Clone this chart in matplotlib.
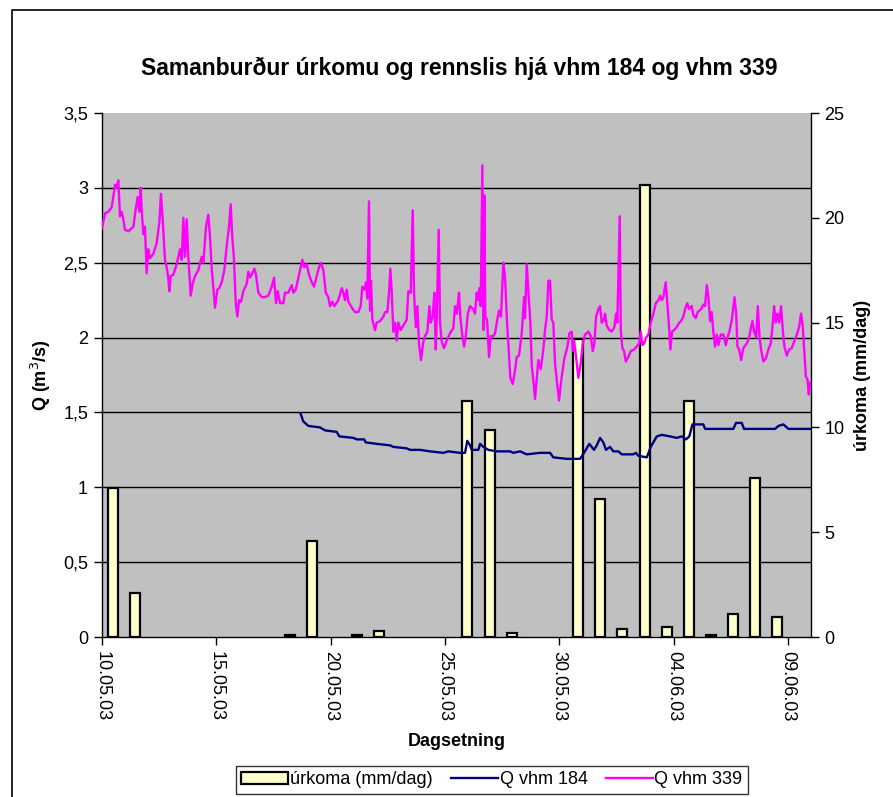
import numpy as np
import pandas as pd
import matplotlib
matplotlib.use("Agg")
import matplotlib.pyplot as plt
import matplotlib.dates as mdates
from matplotlib.patches import Rectangle, Patch
from matplotlib.lines import Line2D

plt.rcParams['font.family'] = ['Liberation Sans', 'DejaVu Sans']

# ---------------- data ----------------
title = "Samanburður úrkomu og rennslis hjá vhm 184 og vhm 339"
start = "2003-05-10"

# daily precipitation (mm/dag), one value per day from 10.05.03 to 10.06.03
rain = [7.1, 2.08, 0, 0, 0, 0, 0, 0, 0.1, 4.58, 0, 0.1, 0.29, 0, 0, 0,
        11.27, 9.87, 0.18, 0, 0, 14.2, 6.58, 0.38, 21.56, 0.49, 11.27, 0.1,
        1.08, 7.57, 0.97, 0]

# Q vhm 339 : hours after 10.05.03 00:00, discharge m3/s
q339_h = [0, 3.2, 6.6, 10.2, 13.7, 15.4, 17.1, 18.9, 20.7, 22.4, 24.1, 27.6, 32.9, 35.7, 37.5,
          39.2, 40.6, 41.7, 43.4, 45.1, 46.9, 48.6, 50.4, 53.9, 57.4, 60.2, 61.9, 63.7, 66.1,
          67.9, 69.6, 70.7, 72.1, 74.9, 78.4, 81.9, 83.7, 85.4, 87.1, 88.9, 90.6, 93.1, 95.2,
          97.6, 101.1, 104.7, 106.4, 109.2, 111.6, 113.4, 115.2, 118.6, 121.1, 123.2, 125.7,
          128.4, 130.9, 133.3, 135.1, 136.8, 138.6, 140.4, 142.1, 143.8, 145.9, 148.4, 151.9,
          153.6, 155.4, 157.8, 159.9, 161.7, 164.1, 167.7, 171.1, 174.6, 178.2, 180.6, 182.7,
          184.5, 186.9, 190.4, 192.2, 195.6, 199.2, 200.9, 203.4, 206.1, 207.9, 210.3, 212.4,
          214.9, 217.3, 220.2, 222.6, 225.4, 227.8, 229.9, 232.4, 234.9, 237.6, 239.4, 241.8,
          243.9, 248.1, 251.7, 253.4, 255.1, 256.9, 258.6, 262.2, 265.6, 269.1, 271.6, 273.3,
          275.4, 277.2, 278.5, 280.3, 281.4, 282.4, 283.8, 286.6, 288.4, 291.9, 295.4, 297.1,
          299.6, 301.3, 302.7, 304.2, 305.8, 307.6, 309.4, 311.1, 313.6, 316.3, 319.9, 321.6,
          324.1, 326.2, 327.6, 329.4, 331.1, 332.8, 334.9, 337.3, 339.1, 341.6, 343.7, 345.1,
          347.2, 348.9, 350.4, 351.7, 353.5, 354.9, 356.7, 359.1, 361.9, 364.7, 366.4, 368.8,
          370.6, 372.4, 373.5, 374.8, 376.2, 378.3, 380.1, 381.9, 384.0, 386.4, 389.8, 391.6,
          393.4, 394.5, 396.1, 397.6, 399.3, 400.3, 401.4, 402.4, 404.2, 406.3, 408.1, 410.8,
          412.6, 415.0, 416.8, 418.9, 421.3, 423.1, 424.9, 426.6, 428.7, 431.2, 433.6, 435.4,
          437.8, 440.7, 443.1, 444.1, 445.9, 447.6, 449.7, 451.2, 452.8, 454.6, 456.4, 458.1,
          460.6, 463.3, 465.1, 466.9, 468.6, 470.4, 472.1, 473.8, 475.6, 478.0, 479.8, 482.6,
          485.4, 488.6, 490.7, 493.2, 494.3, 495.6, 498.4, 500.1, 502.6, 504.7, 507.1, 510.6,
          513.1, 515.2, 516.9, 518.7, 521.1, 522.9, 524.6, 526.3, 528.1, 529.9, 532.6, 535.1,
          537.9, 539.7, 541.0, 542.5, 543.5, 544.6, 546.3, 548.1, 549.9, 552.6, 555.1, 558.6,
          561.4, 563.8, 565.6, 567.3, 569.1, 571.2, 573.6, 576.1, 578.9, 581.4, 584.1, 585.9,
          587.7, 589.3, 591.8, 593.5, 595.3, 596.7, 598.4, 600.6, 603.4, 606.1, 607.9, 610.3,
          612.1, 614.5, 616.3, 619.1, 620.8, 623.3, 625.4, 628.9, 631.3, 633.1, 634.9, 636.6,
          638.4, 640.1, 641.8, 643.6, 645.4, 647.1, 649.6, 652.4, 654.9, 657.0, 658.7, 661.2,
          664.0, 665.8, 667.1, 668.9, 671.0, 673.3, 676.9, 679.3, 681.1, 682.8, 684.6, 686.7,
          688.5, 690.2, 691.9, 694.3, 696.9, 699.6, 702.1, 703.8, 705.6, 707.3, 709.0, 710.8,
          712.9, 714.7, 716.4, 718.9, 721.3, 724.1, 726.5, 729.4, 731.8, 733.9, 735.7, 737.4,
          738.9, 740.6, 742.0, 743.3]
q339_v = [2.73, 2.83, 2.84, 2.87, 3.02, 3.00, 3.05, 2.81, 2.84, 2.79, 2.72, 2.71, 2.74, 2.87, 2.94,
          2.84, 3.00, 2.85, 2.69, 2.74, 2.43, 2.59, 2.53, 2.56, 2.63, 2.77, 2.96, 2.79, 2.52,
          2.47, 2.40, 2.31, 2.41, 2.42, 2.49, 2.59, 2.52, 2.80, 2.54, 2.79, 2.54, 2.28, 2.36,
          2.41, 2.45, 2.54, 2.50, 2.74, 2.82, 2.67, 2.46, 2.20, 2.32, 2.33, 2.37,
          2.45, 2.61, 2.74, 2.89, 2.67, 2.52, 2.23, 2.14, 2.25, 2.24, 2.31, 2.36,
          2.44, 2.40, 2.43, 2.46, 2.42, 2.30, 2.27, 2.27, 2.28, 2.34, 2.40, 2.23,
          2.31, 2.23, 2.23, 2.30, 2.30, 2.35, 2.30, 2.32, 2.40, 2.45, 2.52, 2.47,
          2.49, 2.42, 2.37, 2.34, 2.41, 2.47, 2.50, 2.45, 2.30, 2.27, 2.21, 2.24,
          2.21, 2.25, 2.33, 2.30, 2.25, 2.32, 2.24, 2.20, 2.17, 2.17, 2.21, 2.34,
          2.32, 2.37, 2.26, 2.91, 2.18, 2.38, 2.12, 2.05, 2.10, 2.11, 2.14, 2.17,
          2.17, 2.30, 2.46, 2.30, 2.04, 2.10, 1.98, 2.10, 2.05, 2.08, 2.12, 2.31,
          2.30, 2.85, 2.30, 2.07, 2.21, 1.96, 1.85, 1.97, 2.01, 2.04, 2.21, 2.10,
          2.14, 2.30, 1.92, 2.21, 2.72, 2.10, 1.97, 1.93, 1.98, 2.02, 2.04, 2.06,
          2.21, 2.16, 2.22, 2.30, 2.14, 2.01, 1.94, 2.01, 2.16, 2.21, 2.19, 2.16,
          2.30, 2.25, 2.33, 2.21, 3.15, 2.05, 2.95, 2.14, 2.12, 1.87, 2.01, 2.01,
          2.03, 2.12, 2.18, 2.14, 2.50, 2.41, 2.14, 1.96, 1.73, 1.69, 1.78, 1.87,
          1.88, 2.03, 2.27, 2.13, 2.49, 2.32, 2.10, 1.81, 1.72, 1.59, 1.72, 1.85,
          1.79, 1.92, 2.05, 2.14, 2.38, 2.38, 2.12, 2.10, 1.83, 1.68, 1.58, 1.74,
          1.86, 1.94, 2.03, 2.04, 1.91, 1.98, 1.83, 1.73, 1.83, 1.96, 2.02, 2.04,
          2.01, 1.91, 1.96, 2.14, 2.19, 2.21, 2.10, 2.11, 2.16, 2.08, 2.05, 2.04,
          2.07, 2.16, 2.10, 2.52, 2.81, 2.05, 1.93, 1.91, 1.84, 1.87, 1.91, 1.92,
          1.94, 1.96, 2.04, 1.95, 1.96, 2.00, 2.02, 2.10, 2.16, 2.23, 2.25, 2.28,
          2.25, 2.27, 2.37, 2.23, 2.07, 1.92, 2.04, 2.05, 2.07, 2.10, 2.11, 2.14,
          2.19, 2.23, 2.19, 2.21, 2.15, 2.13, 2.17, 2.19, 2.22, 2.21, 2.35, 2.27,
          2.11, 2.17, 2.04, 1.94, 2.02, 1.95, 2.02, 2.02, 1.95, 2.01, 2.04, 2.12,
          2.27, 2.16, 1.94, 1.92, 1.85, 1.93, 1.96, 2.00, 2.06, 2.11, 2.04, 2.00,
          2.21, 2.01, 1.92, 1.84, 1.86, 1.92, 1.96, 2.07, 2.21, 2.10, 2.16, 2.10,
          2.21, 2.05, 1.94, 1.88, 1.92, 1.93, 1.97, 2.02, 2.07, 2.16, 2.07, 1.90,
          1.74, 1.72, 1.62, 1.70]

# Q vhm 184 : hours after 10.05.03 00:00, discharge m3/s
q184_h = [208.6, 211.3, 216.6, 228.9, 234.1, 246.4, 249.1, 263.8, 267.4, 275.1, 276.9, 288.4,
          302.4, 305.8, 319.9, 323.4, 333.9, 344.4, 358.3, 363.6, 375.9, 381.1, 383.5, 386.4,
          388.1, 395.1, 396.9, 400.3, 405.6, 414.4, 428.4, 431.8, 438.9, 445.9, 459.9, 470.4,
          473.8, 487.9, 501.9, 506.0, 511.6, 516.5, 519.4, 522.9, 526.3, 529.1, 533.3, 536.8,
          542.1, 545.6, 557.8, 560.6, 563.1, 571.9, 576.1, 582.4, 587.6, 596.3, 603.4, 608.6,
          613.1, 616.6, 619.8, 624.4, 631.3, 633.1, 648.8, 659.3, 662.8, 665.6, 671.6, 674.0,
          683.8, 696.1, 706.6, 710.1, 715.3, 720.6, 729.4, 743.4]
q184_v = [1.49, 1.44, 1.41, 1.40, 1.38, 1.37, 1.34, 1.33, 1.32, 1.32, 1.30, 1.29,
          1.28, 1.27, 1.26, 1.25, 1.25, 1.24, 1.23, 1.24, 1.23, 1.23, 1.31, 1.28,
          1.25, 1.25, 1.29, 1.27, 1.25, 1.24, 1.24, 1.23, 1.24, 1.22, 1.23, 1.23,
          1.20, 1.19, 1.19, 1.23, 1.29, 1.25, 1.28, 1.33, 1.30, 1.25, 1.27, 1.24,
          1.24, 1.22, 1.22, 1.23, 1.21, 1.20, 1.27, 1.34, 1.35, 1.34, 1.33, 1.34,
          1.32, 1.34, 1.42, 1.42, 1.42, 1.39, 1.39, 1.39, 1.39, 1.43, 1.43, 1.39,
          1.39, 1.39, 1.39, 1.41, 1.42, 1.39, 1.39, 1.39]

q_ticks = [0, 0.5, 1, 1.5, 2, 2.5, 3, 3.5]
q_ticklabels = ["0", "0,5", "1", "1,5", "2", "2,5", "3", "3,5"]
rain_ticks = [0, 5, 10, 15, 20, 25]
date_ticks = ["2003-05-10", "2003-05-15", "2003-05-20", "2003-05-25",
              "2003-05-30", "2003-06-04", "2003-06-09"]

labels = {"rain": "úrkoma (mm/dag)", "q184": "Q vhm 184", "q339": "Q vhm 339"}

# ---------------- styles ----------------
BG = "#C0C0C0"
BAR_FC = "#FFFFCC"
C184 = "#000080"
C339 = "#FF00FF"
FS = 13

W, H = 893, 797
fig = plt.figure(figsize=(W / 100, H / 100), dpi=100)
left, right, top, bottom = 102, 810.7, 113, 637
rect = [left / W, 1 - bottom / H, (right - left) / W, (bottom - top) / H]

# outer chart border
fig.add_artist(Rectangle((12 / W, -0.05), 1.2, 1 - 10 / H + 0.05, transform=fig.transFigure,
                         fill=False, edgecolor="black", linewidth=1.2))

# bars axis (bottom layer, also background)
axb = fig.add_axes(rect)
axb.set_facecolor(BG)
# line axis (top layer)
axq = fig.add_axes(rect)
axq.patch.set_visible(False)

t0 = pd.Timestamp(start)
t_end = t0 + pd.Timedelta(days=31)
axq.set_xlim(t0, t_end)
axq.set_ylim(0, 3.5)

# gridlines at Q ticks, drawn in the bottom axes so they sit behind bars
for v in q_ticks[1:-1]:
    axb.plot([0, 1], [v, v], transform=axq.get_yaxis_transform(), color="black",
             linewidth=1.0, zorder=1)

# bars
n = len(rain)
pos = np.arange(n)
rain_arr = np.array(rain, dtype=float)
mask = rain_arr > 0
axb.bar(pos[mask], rain_arr[mask], width=0.45, color=BAR_FC, edgecolor="black",
        linewidth=1.6, zorder=2)
axb.set_xlim(-0.5, n - 0.5)
axb.set_ylim(0, 25)
axb.set_xticks([])
axb.yaxis.tick_right()
axb.yaxis.set_label_position("right")
axb.set_yticks(rain_ticks)
axb.set_yticklabels([str(v) for v in rain_ticks])
for s in ["top", "left", "bottom"]:
    axb.spines[s].set_visible(False)
axb.spines["right"].set_linewidth(1.0)
axb.tick_params(axis="y", direction="out", length=6, width=1, labelsize=FS, pad=4)
axb.set_ylabel(labels["rain"], fontsize=FS, fontweight="bold")
axb.yaxis.set_label_coords((854 - left) / (right - left), 0.5)

# lines
t339 = t0 + pd.to_timedelta(q339_h, unit="h")
t184 = t0 + pd.to_timedelta(q184_h, unit="h")
axq.plot(t184, q184_v, color=C184, linewidth=1.7, zorder=3)
axq.plot(t339, q339_v, color=C339, linewidth=1.7, zorder=4)

axq.set_yticks(q_ticks)
axq.set_yticklabels(q_ticklabels)
axq.set_xticks(pd.to_datetime(date_ticks))
axq.xaxis.set_major_formatter(mdates.DateFormatter("%d.%m.%y"))
for lab in axq.get_xticklabels():
    lab.set_rotation(-90)
axq.tick_params(axis="x", direction="out", length=6, width=1, labelsize=FS, pad=4)
axq.tick_params(axis="y", direction="out", length=6, width=1, labelsize=FS, pad=4)
for lab in axq.get_xticklabels():
    lab.set_ha("center")
    lab.set_va("top")
for s in ["top", "right"]:
    axq.spines[s].set_visible(False)
axq.spines["left"].set_linewidth(1.0)
axq.spines["bottom"].set_linewidth(1.0)

axq.set_ylabel("Q (m$^3$/s)", fontsize=FS, fontweight="bold")
axq.yaxis.set_label_coords((53 - left) / (right - left), 0.5)
axq.set_xlabel("Dagsetning", fontsize=FS, fontweight="bold")
axq.xaxis.set_label_coords(0.5, (bottom - 733) / (bottom - top))

fig.text(459 / W, 1 - 68 / H, title, ha="center", va="center", fontsize=16.5,
         fontweight="bold")

handles = [Patch(facecolor=BAR_FC, edgecolor="black", linewidth=1.6),
           Line2D([], [], color=C184, linewidth=1.7),
           Line2D([], [], color=C339, linewidth=1.7)]
leg = fig.legend(handles, [labels["rain"], labels["q184"], labels["q339"]],
                 loc="upper center", bbox_to_anchor=(492 / W, 1 - 766 / H), ncol=3,
                 fontsize=FS, frameon=True, fancybox=False, shadow=False,
                 borderpad=0.3, handlelength=2.6, handletextpad=0.1, columnspacing=1.0,
                 borderaxespad=0)
leg.get_frame().set_edgecolor("black")
leg.get_frame().set_linewidth(1.0)

fig.savefig("out.png", dpi=100)
